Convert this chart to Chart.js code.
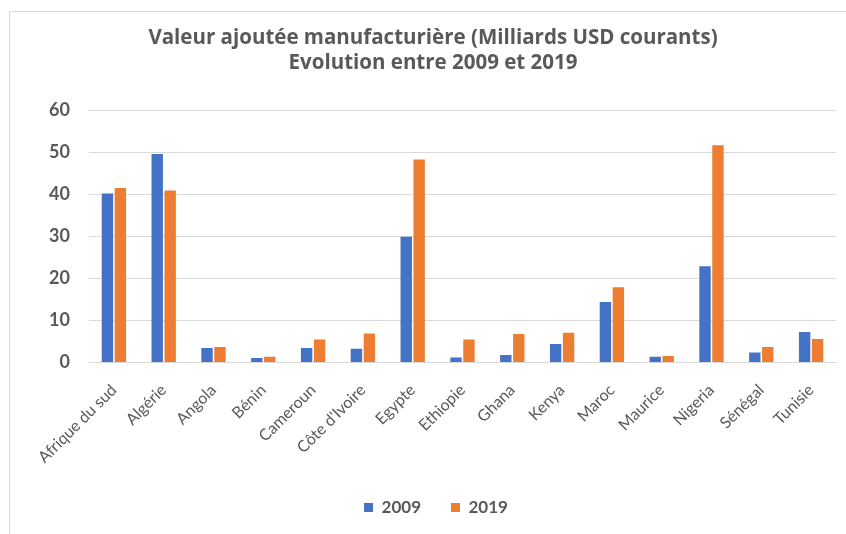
<!DOCTYPE html>
<html>
<head>
<meta charset="utf-8">
<script src="https://cdn.jsdelivr.net/npm/chart.js@4.4.1/dist/chart.umd.min.js"></script>
<style>
  html, body { margin: 0; padding: 0; background: #ffffff; }
  #wrap { position: relative; width: 846px; height: 534px; overflow: hidden; }
  #frame { position: absolute; left: 9px; top: 11px; width: 900px; height: 600px;
           border-top: 1px solid #d9d9d9; border-left: 1px solid #d9d9d9; }
  canvas { position: absolute; left: 0; top: 0; }
</style>
</head>
<body>
<div id="wrap">
  <div id="frame"></div>
  <canvas id="c" width="846" height="534"></canvas>
</div>
<script>
const titleLines = ['Valeur ajoutée manufacturière (Milliards USD courants)', 'Evolution entre 2009 et 2019'];
const categories = ['Afrique du sud', 'Algérie', 'Angola', 'Bénin', 'Cameroun', "Côte d'Ivoire", 'Egypte', 'Ethiopie', 'Ghana', 'Kenya', 'Maroc', 'Maurice', 'Nigeria', 'Sénégal', 'Tunisie'];
const seriesNames = ['2009', '2019'];
const values2009 = [40.2, 49.6, 3.5, 1.1, 3.5, 3.3, 29.9, 1.2, 1.8, 4.4, 14.4, 1.4, 22.9, 2.4, 7.3];
const values2019 = [41.5, 40.9, 3.7, 1.4, 5.5, 6.9, 48.3, 5.5, 6.8, 7.1, 17.9, 1.6, 51.7, 3.7, 5.6];
const yMin = 0, yMax = 60, yStep = 10;

const textColor = '#595959';
const gridColor = '#d9d9d9';

const boxShift = {
  id: 'boxShift',
  afterLayout(chart) {
    const l = chart.legend;
    if (l) { l.left += 13; l.right += 13; }
    const t = chart.titleBlock;
    if (t) { t.left += 10; t.right += 10; }
  }
};

new Chart(document.getElementById('c'), {
  type: 'bar',
  data: {
    labels: categories,
    datasets: [
      { label: seriesNames[0], data: values2009, backgroundColor: '#4472C4', borderWidth: 0,
        barPercentage: 0.88, categoryPercentage: 0.52 },
      { label: seriesNames[1], data: values2019, backgroundColor: '#ED7D31', borderWidth: 0,
        barPercentage: 0.88, categoryPercentage: 0.52 }
    ]
  },
  plugins: [boxShift],
  options: {
    responsive: false,
    animation: false,
    layout: { padding: { left: 10, right: 10, top: 0, bottom: 8 } },
    plugins: {
      title: {
        display: true,
        text: titleLines,
        color: textColor,
        font: { family: 'Open Sans', size: 20.5, weight: 'bold', lineHeight: 1.25 },
        padding: { top: 25, bottom: 34 }
      },
      legend: {
        display: true,
        position: 'bottom',
        labels: {
          color: textColor,
          font: { family: 'Lato', size: 17, weight: 'bold' },
          boxWidth: 9, boxHeight: 9, padding: 30
        }
      },
      tooltip: { enabled: false }
    },
    scales: {
      x: {
        grid: { display: false },
        border: { display: true, color: gridColor },
        ticks: {
          color: textColor,
          font: { family: 'Lato', size: 16 },
          maxRotation: 45, minRotation: 45, autoSkip: false, padding: 10
        },
        afterFit: (s) => { s.height -= 8; }
      },
      y: {
        min: yMin, max: yMax,
        grid: { color: gridColor, lineWidth: 1, drawTicks: false },
        border: { display: false },
        ticks: {
          stepSize: yStep,
          color: textColor,
          font: { family: 'Lato', size: 18, weight: 'bold' },
          padding: 19
        },
        afterFit: (s) => { s.width = 79; }
      }
    }
  }
});
</script>
</body>
</html>
